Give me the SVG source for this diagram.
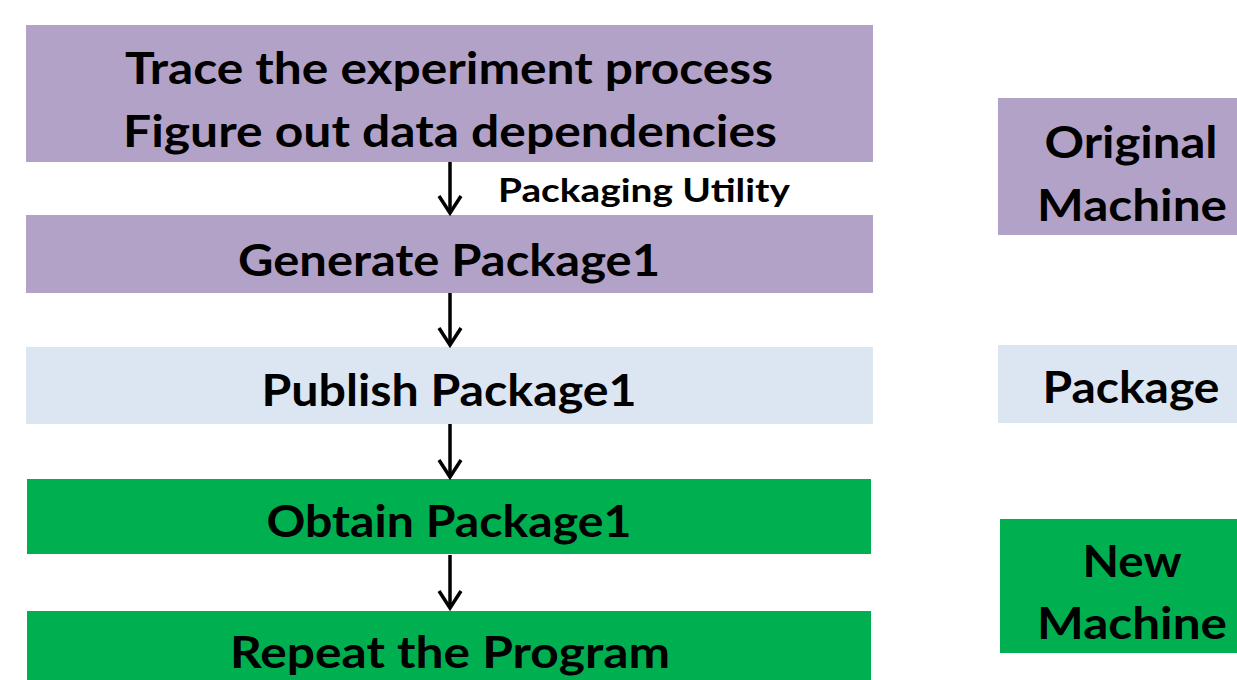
<svg xmlns="http://www.w3.org/2000/svg" width="1237" height="680" viewBox="0 0 1237 680">
<style>
.t{font-family:Lato,"Open Sans","Liberation Sans",sans-serif;font-weight:bold;fill:#000;text-anchor:middle}
.big{font-size:43px}
.small{font-size:33px}
.purple{fill:#B3A2C7}
.blue{fill:#DCE6F2}
.green{fill:#00B050}
.conn{stroke:#000;stroke-width:3.5;fill:none}
</style>
<defs>
<marker id="arr" viewBox="0 0 22 26" refX="19" refY="13" markerWidth="22" markerHeight="26" markerUnits="userSpaceOnUse" orient="auto">
<path d="M2,2 L19,13 L2,24" stroke="#000" stroke-width="3.5" fill="none"/>
</marker>
</defs>
<g id="trace">
<rect class="purple" x="26" y="25" width="847" height="137"/>
<text class="t big" x="449" y="84" textLength="648" lengthAdjust="spacingAndGlyphs">Trace the experiment process</text>
<text class="t big" x="450" y="147" textLength="654" lengthAdjust="spacingAndGlyphs">Figure out data dependencies</text>
</g>
<g id="generate">
<rect class="purple" x="26" y="215" width="847" height="78"/>
<text class="t big" x="449" y="276" textLength="422" lengthAdjust="spacingAndGlyphs">Generate Package1</text>
</g>
<g id="publish">
<rect class="blue" x="26" y="347" width="847" height="77"/>
<text class="t big" x="449" y="406" textLength="375" lengthAdjust="spacingAndGlyphs">Publish Package1</text>
</g>
<g id="obtain">
<rect class="green" x="27" y="479" width="844" height="75"/>
<text class="t big" x="449" y="537" textLength="365" lengthAdjust="spacingAndGlyphs">Obtain Package1</text>
</g>
<g id="repeat">
<rect class="green" x="27" y="611" width="844" height="69"/>
<text class="t big" x="450" y="668" textLength="440" lengthAdjust="spacingAndGlyphs">Repeat the Program</text>
</g>
<g id="original-machine">
<rect class="purple" x="998" y="98" width="239" height="137"/>
<text class="t big" x="1131" y="158" textLength="173" lengthAdjust="spacingAndGlyphs">Original</text>
<text class="t big" x="1132" y="221" textLength="190" lengthAdjust="spacingAndGlyphs">Machine</text>
</g>
<g id="package">
<rect class="blue" x="998" y="345" width="239" height="78"/>
<text class="t big" x="1131" y="403" textLength="177" lengthAdjust="spacingAndGlyphs">Package</text>
</g>
<g id="new-machine">
<rect class="green" x="1000" y="519" width="237" height="134"/>
<text class="t big" x="1132" y="577" textLength="99" lengthAdjust="spacingAndGlyphs">New</text>
<text class="t big" x="1132" y="639" textLength="190" lengthAdjust="spacingAndGlyphs">Machine</text>
</g>
<g id="connectors">
<line class="conn" x1="450" y1="162" x2="450" y2="213" marker-end="url(#arr)"/>
<text class="t small" x="644" y="202" textLength="292" lengthAdjust="spacingAndGlyphs">Packaging Utility</text>
<line class="conn" x1="450" y1="293" x2="450" y2="345" marker-end="url(#arr)"/>
<line class="conn" x1="450" y1="424" x2="450" y2="477" marker-end="url(#arr)"/>
<line class="conn" x1="450" y1="555" x2="450" y2="608" marker-end="url(#arr)"/>
</g>
</svg>
